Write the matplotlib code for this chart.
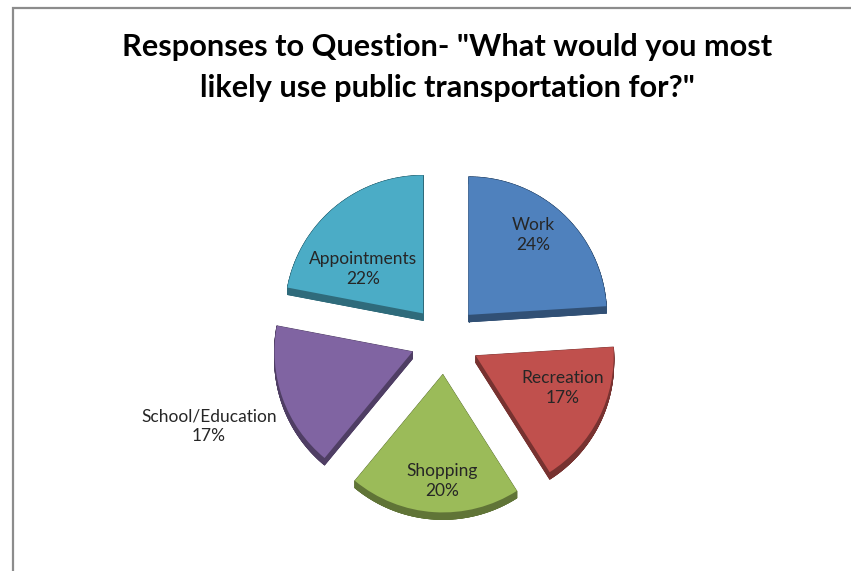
import numpy as np
import matplotlib
matplotlib.use("Agg")
import matplotlib.pyplot as plt
from matplotlib.patches import Polygon
from matplotlib.lines import Line2D
import matplotlib.colors as mcolors

# Survey answers
categories = ["Work", "Recreation", "Shopping", "School/Education", "Appointments"]
shares = [24, 17, 20, 17, 22]
title_lines = ['Responses to Question- "What would you most',
               'likely use public transportation for?"']

# Styling
slice_colors = ["#4F81BD", "#C0504D", "#9BBB59", "#8064A2", "#4BACC6"]
label_dist = [0.743, 0.675, 0.772, 1.57, 0.541]  # label distance from slice tip, in radii
label_turn = [4.3, 6.7, 3.2, 0.3, 13.9]          # small angular nudge of each label, degrees

W, H = 851, 571
fig = plt.figure(figsize=(W / 100, H / 100), dpi=100)
ax = fig.add_axes([0, 0, 1, 1])

cx, cy, R = 445, H - 340, 138
depth = 7  # visible thickness of the pie, pixels
gap = 0.25 * R  # how far each slice is pulled out

wedges, _ = ax.pie(shares, colors=slice_colors, startangle=90, counterclock=False,
                   radius=R, center=(cx, cy), explode=[gap] * len(shares),
                   wedgeprops=dict(linewidth=0))
ax.set_xlim(0, W)
ax.set_ylim(0, H)
ax.set_aspect("equal")
ax.axis("off")


def darker(c, f):
    r, g, b = mcolors.to_rgb(c)
    return (r * f, g * f, b * f)


# extrude each slice downwards to give it a 3-D rim
for w, col in zip(wedges, slice_colors):
    w.set_zorder(3)
    x0, y0 = w.center
    t = np.radians(np.linspace(w.theta1, w.theta2, 120))
    arc = np.column_stack([x0 + w.r * np.cos(t), y0 + w.r * np.sin(t)])
    top = np.vstack([[x0, y0], arc])
    shift = np.array([0, -depth])
    side = darker(col, 0.62)
    pieces = [top + shift,
              np.vstack([arc, (arc + shift)[::-1]])]
    n = len(top)
    for i in range(n):
        a, b = top[i], top[(i + 1) % n]
        pieces.append(np.array([a, b, b + shift, a + shift]))
    for p in pieces:
        ax.add_patch(Polygon(p, closed=True, facecolor=side, edgecolor=side,
                             linewidth=0.6, zorder=2))

# slice labels
for w, cat, val, d, turn in zip(wedges, categories, shares, label_dist, label_turn):
    mid = np.radians((w.theta1 + w.theta2) / 2 + turn)
    x0, y0 = w.center
    ax.text(x0 + R * d * np.cos(mid), y0 + R * d * np.sin(mid), f"{cat}\n{val}%",
            ha="center", va="center", fontsize=12.5, family="Lato",
            color="#262626", linespacing=1.25, zorder=5)

# title, two centred lines
renderer = fig.canvas.get_renderer()
t1 = fig.text(447 / W, 1 - 47 / H, title_lines[0], ha="center", va="center",
              fontsize=20, fontweight="bold", family="Lato", color="black")
w1 = t1.get_window_extent(renderer).width
fs = 20 * 651 / w1
t1.set_fontsize(fs)
fig.text(447 / W, 1 - 88 / H, title_lines[1], ha="center", va="center",
         fontsize=fs, fontweight="bold", family="Lato", color="black")

# chart frame (left and top edges)
ax.add_line(Line2D([12.5, 12.5, W], [0, H - 8, H - 8], color="#8c8c8c",
                   linewidth=1.6, solid_joinstyle="miter", zorder=1))

fig.savefig("out.png", dpi=100, facecolor="white")
